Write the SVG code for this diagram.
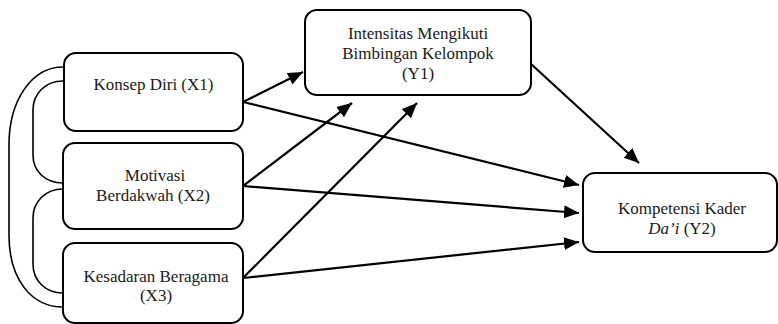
<svg xmlns="http://www.w3.org/2000/svg" width="778" height="324" viewBox="0 0 778 324">
  <style>
    .box { fill: #ffffff; stroke: #000000; stroke-width: 2; }
    .lbl { font-family: "Liberation Serif", "DejaVu Serif", serif; font-size: 17px; fill: #1a1a1a; text-anchor: middle; }
    .arrow { fill: none; stroke: #000000; stroke-width: 2.2; marker-end: url(#head); }
    .corr { fill: none; stroke: #000000; stroke-width: 1.6; }
  </style>
  <defs>
    <marker id="head" markerUnits="userSpaceOnUse" markerWidth="16" markerHeight="14" refX="15" refY="6.5" orient="auto">
      <path d="M0,0 L15,6.5 L0,13 z" fill="#000000"/>
    </marker>
  </defs>
  <rect width="778" height="324" fill="#ffffff"/>

  <g id="connectors">
    <path class="corr" d="M63,67 C32,67 9,100 9,145 L9,235 C9,280 32,307 63,307"/>
    <path class="corr" d="M63,81 C45,81 33,94 33,110 L33,155 C33,171 45,183 63,183"/>
    <path class="corr" d="M63,189 C45,189 33,202 33,218 L33,264 C33,280 45,293 63,293"/>
    <line class="arrow" x1="243" y1="102" x2="303" y2="72"/>
    <line class="arrow" x1="243" y1="102" x2="579" y2="185"/>
    <line class="arrow" x1="243" y1="186" x2="352" y2="103"/>
    <line class="arrow" x1="243" y1="186" x2="579" y2="213"/>
    <line class="arrow" x1="243" y1="278" x2="417" y2="103"/>
    <line class="arrow" x1="243" y1="278" x2="579" y2="242"/>
    <line class="arrow" x1="531" y1="64" x2="639" y2="163"/>
  </g>

  <g id="x1">
    <rect class="box" x="64" y="53" width="179" height="78" rx="12"/>
    <text class="lbl" x="153.5" y="90">Konsep Diri (X1)</text>
  </g>
  <g id="x2">
    <rect class="box" x="63" y="143" width="180" height="86" rx="12"/>
    <text class="lbl" x="155" y="181">Motivasi</text>
    <text class="lbl" x="153" y="201">Berdakwah  (X2)</text>
  </g>
  <g id="x3">
    <rect class="box" x="63" y="243" width="180" height="80" rx="12"/>
    <text class="lbl" x="156" y="282">Kesadaran Beragama</text>
    <text class="lbl" x="156" y="301">(X3)</text>
  </g>
  <g id="y1">
    <rect class="box" x="305" y="10" width="226" height="85" rx="12"/>
    <text class="lbl" x="418" y="39">Intensitas Mengikuti</text>
    <text class="lbl" x="418" y="59">Bimbingan Kelompok</text>
    <text class="lbl" x="418" y="79">(Y1)</text>
  </g>
  <g id="y2">
    <rect class="box" x="583" y="173" width="194" height="79" rx="12"/>
    <text class="lbl" x="682" y="214">Kompetensi Kader</text>
    <text class="lbl" x="682" y="234"><tspan font-style="italic">Da’i</tspan> (Y2)</text>
  </g>
</svg>
